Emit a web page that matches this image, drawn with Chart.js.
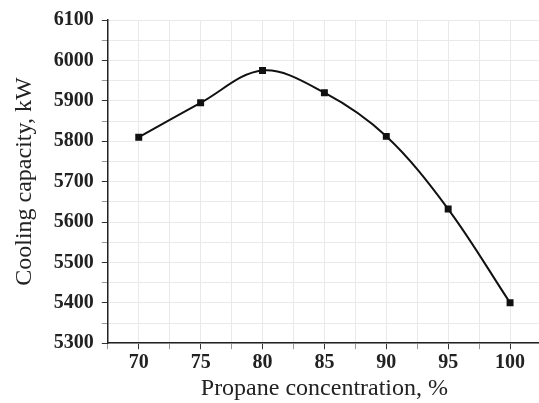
<!DOCTYPE html>
<html>
<head>
<meta charset="utf-8">
<script src="https://cdn.jsdelivr.net/npm/chart.js@4/dist/chart.umd.min.js"></script>
<style>
  html, body { margin: 0; padding: 0; background: #fff; overflow: hidden; }
  #wrap { width: 547px; height: 403px; }
</style>
</head>
<body>
<div id="wrap"><canvas id="chart"></canvas></div>
<script>
const concentration = [70, 75, 80, 85, 90, 95, 100];
const capacity = [5810, 5895, 5975, 5920, 5812, 5632, 5400];
const xTitle = "Propane concentration, %";
const yTitle = "Cooling capacity, kW";

const serif = "'Liberation Serif', 'DejaVu Serif', serif";
const gridColor = "#e9e9e9";

new Chart(document.getElementById("chart"), {
  type: "line",
  data: {
    datasets: [{
      data: concentration.map((x, i) => ({ x: x, y: capacity[i] })),
      borderColor: "#111",
      borderWidth: 2,
      tension: 0.35,
      pointStyle: "rect",
      pointRadius: 3.5,
      pointBackgroundColor: "#111",
      pointBorderColor: "#111",
      fill: false
    }]
  },
  options: {
    responsive: true,
    maintainAspectRatio: false,
    animation: false,
    layout: { padding: { left: 10, top: 1, right: 0, bottom: 0 } },
    plugins: { legend: { display: false }, tooltip: { enabled: false } },
    scales: {
      x: {
        type: "linear",
        min: 67.5,
        max: 102.5,
        border: { color: "#222", width: 1.5 },
        grid: {
          color: gridColor,
          tickLength: 6,
          tickColor: ctx => (ctx.tick && ctx.tick.value % 5 === 0) ? "#333" : "#999"
        },
        ticks: {
          stepSize: 2.5,
          autoSkip: false,
          maxRotation: 0,
          padding: 2,
          color: "#222",
          font: { family: serif, size: 20, weight: "bold" },
          callback: v => (v % 5 === 0 ? v : "")
        },
        title: {
          display: true,
          text: xTitle,
          color: "#222",
          padding: { top: -3, bottom: 0 },
          font: { family: serif, size: 24 }
        }
      },
      y: {
        min: 5300,
        max: 6100,
        border: { color: "#222", width: 1.5 },
        grid: {
          color: gridColor,
          tickLength: 6,
          tickColor: ctx => (ctx.tick && ctx.tick.value % 100 === 0) ? "#333" : "#999"
        },
        ticks: {
          stepSize: 50,
          autoSkip: false,
          padding: 8,
          color: "#222",
          font: { family: serif, size: 20, weight: "bold" },
          callback: v => (v % 100 === 0 ? v : "")
        },
        title: {
          display: true,
          text: yTitle,
          color: "#222",
          padding: { top: 0, bottom: 7 },
          font: { family: serif, size: 24 }
        }
      }
    }
  }
});
</script>
</body>
</html>
